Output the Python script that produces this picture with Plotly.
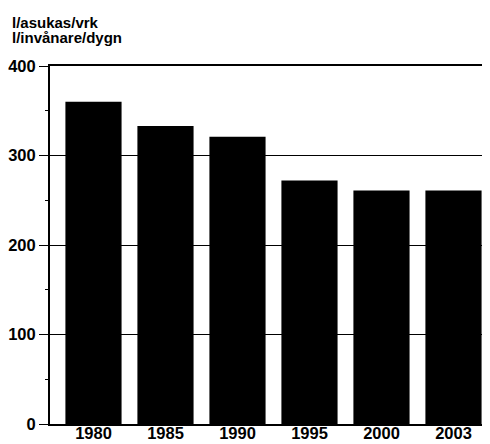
import plotly.graph_objects as go

years = ["1980", "1985", "1990", "1995", "2000", "2003"]
values = [360, 333, 321, 272, 261, 261]
y_ticks = [0, 100, 200, 300, 400]

FONT = "Liberation Sans, Arial, sans-serif"

fig = go.Figure(go.Bar(x=years, y=values, marker=dict(color="black", line=dict(width=0))))

fig.update_layout(
    width=490, height=444,
    margin=dict(l=42, r=8, t=58, b=28, autoexpand=False),
    paper_bgcolor="white", plot_bgcolor="white",
    bargap=0.22,
    showlegend=False,
    font=dict(family=FONT, size=16, color="black"),
)
fig.update_xaxes(
    type="category", range=[-0.604, 5.507], automargin=False,
    showline=True, mirror=True, linecolor="black", linewidth=2,
    ticks="", showgrid=False, ticklabelstandoff=-7,
    tickfont=dict(size=16.5, family=FONT, color="black", weight="bold"),
)
fig.update_yaxes(
    range=[0, 400], tickvals=y_ticks, automargin=False,
    showline=True, linecolor="black", linewidth=2,
    ticks="outside", ticklen=9, tickwidth=1, tickcolor="black",
    showgrid=True, gridcolor="black", gridwidth=1.3,
    minor=dict(dtick=50, ticks="outside", ticklen=3, tickcolor="black", showgrid=False),
    zeroline=False,
    tickfont=dict(size=16.5, family=FONT, color="black", weight="bold"),
)
title_lines = ["l/asukas/vrk", "l/invånare/dygn"]
for i, line in enumerate(title_lines):
    fig.add_annotation(text=line, xref="paper", yref="paper",
                       x=0, y=1, xanchor="left", yanchor="middle", showarrow=False,
                       font=dict(size=15, family=FONT, color="black", weight="bold"),
                       xshift=-40, yshift=44 - 15 * i)
fig.write_html("out.html")
